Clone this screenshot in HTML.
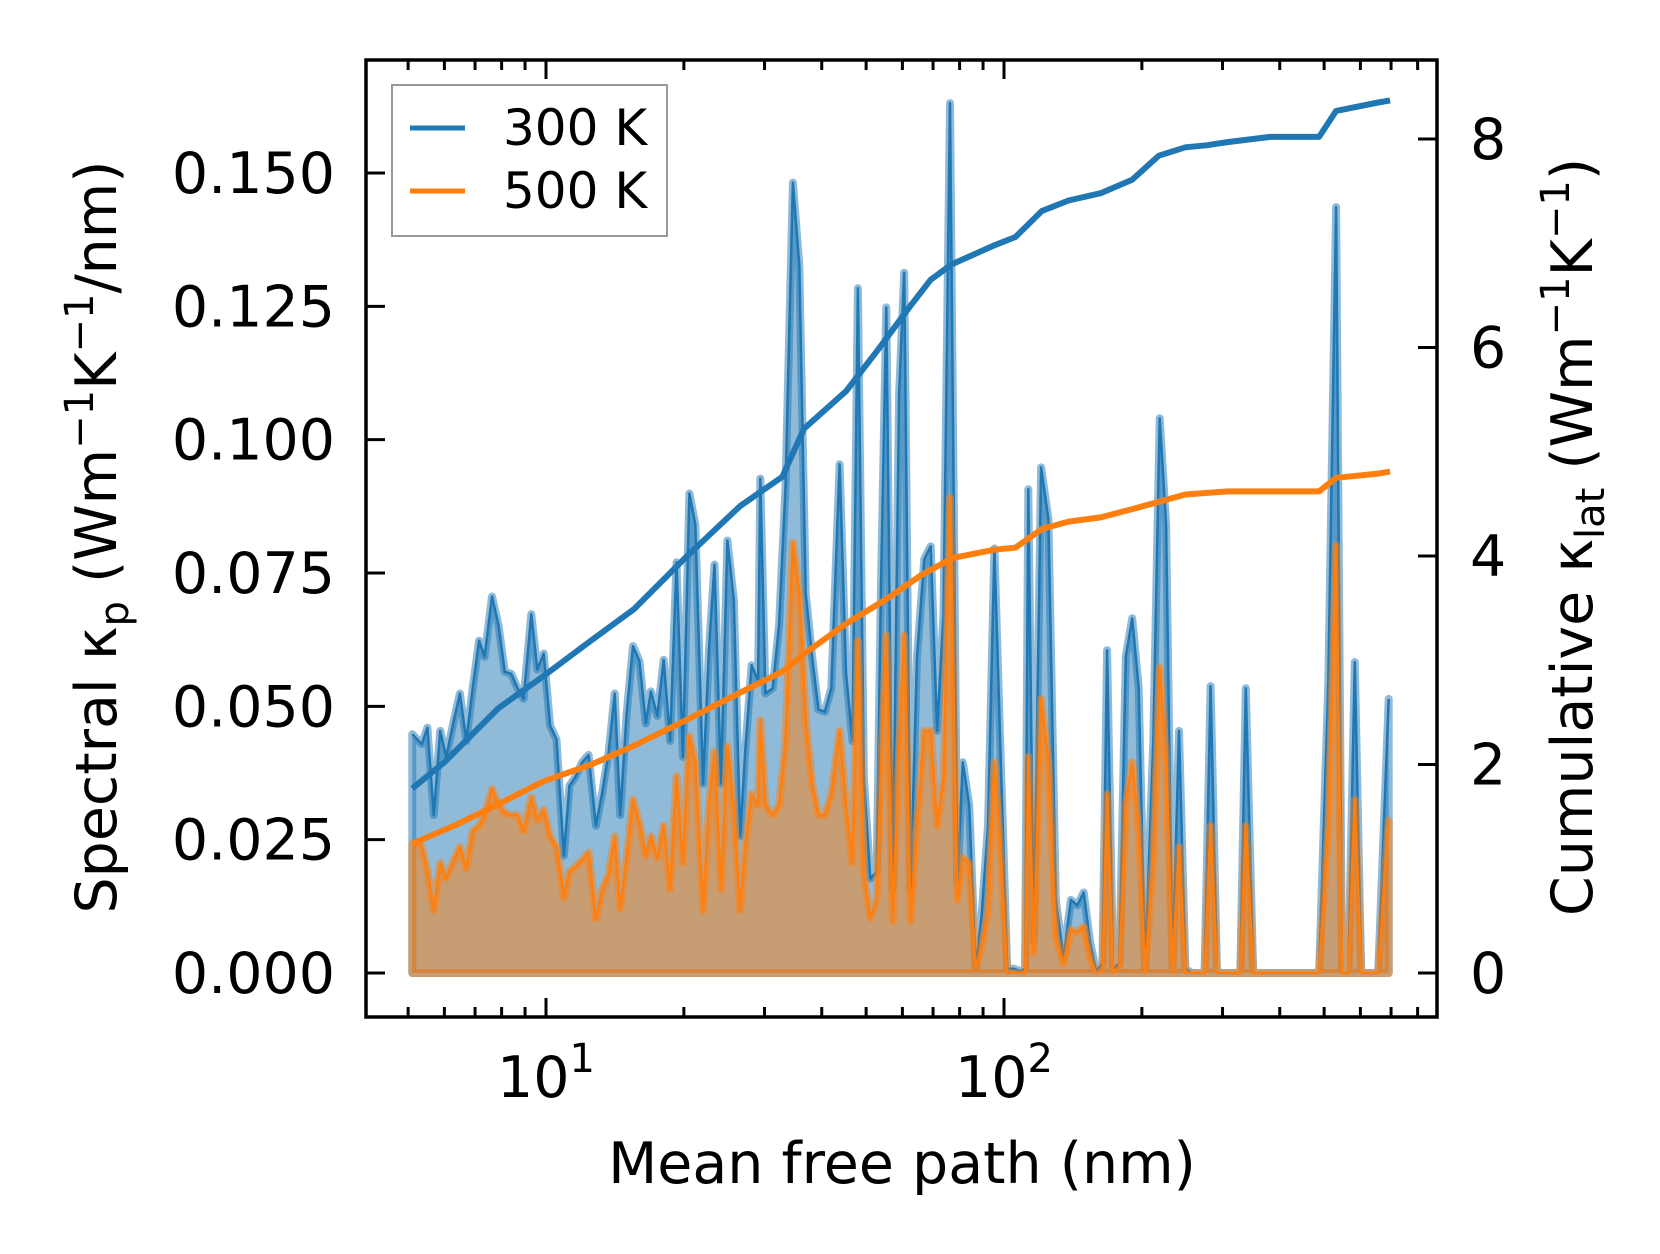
<!DOCTYPE html>
<html><head><meta charset="utf-8"><style>
html,body{margin:0;padding:0;background:#fff;}
svg{display:block;font-family:"DejaVu Sans","Liberation Sans",sans-serif;}
</style></head><body>
<svg id="chart" width="1660" height="1254" viewBox="0 0 1660 1254" xmlns="http://www.w3.org/2000/svg">
<g id="plot"></g>
<g id="axes"></g>
<text x="902" y="1183" font-size="57" text-anchor="middle">Mean free path (nm)</text>
<text transform="translate(116,537) rotate(-90)" font-size="57" text-anchor="middle">Spectral κ<tspan font-size="40" dy="12">p</tspan><tspan dy="-12"> (Wm</tspan><tspan font-size="40" dy="-23">−1</tspan><tspan dy="23">K</tspan><tspan font-size="40" dy="-23">−1</tspan><tspan dy="23">/nm)</tspan></text>
<text transform="translate(1592,537) rotate(-90)" font-size="57" text-anchor="middle">Cumulative κ<tspan font-size="40" dy="12">lat</tspan><tspan dy="-12"> (Wm</tspan><tspan font-size="40" dy="-23">−1</tspan><tspan dy="23">K</tspan><tspan font-size="40" dy="-23">−1</tspan><tspan dy="23">)</tspan></text>
<g>
<rect x="392" y="85" width="275" height="151" fill="#fff" fill-opacity="0.8" stroke="#999" stroke-width="2"/>
<line x1="410" y1="128" x2="465" y2="128" stroke="#1f77b4" stroke-width="5"/>
<text x="503" y="145" font-size="50">300 K</text>
<line x1="410" y1="191" x2="465" y2="191" stroke="#ff7f0e" stroke-width="5"/>
<text x="503" y="208" font-size="50">500 K</text>
</g>
</svg>
<script>
const logMfp=[0.708,0.722,0.729,0.741,0.755,0.769,0.782,0.799,0.812,0.826,0.840,0.854,0.866,0.882,0.896,0.910,0.924,0.938,0.951,0.968,0.981,0.995,1.009,1.023,1.039,1.051,1.065,1.079,1.093,1.109,1.123,1.137,1.150,1.162,1.176,1.190,1.204,1.218,1.229,1.243,1.257,1.271,1.285,1.299,1.313,1.326,1.343,1.356,1.368,1.382,1.396,1.410,1.424,1.435,1.449,1.463,1.468,1.479,1.495,1.509,1.523,1.539,1.553,1.567,1.581,1.595,1.609,1.623,1.641,1.655,1.669,1.681,1.694,1.708,1.722,1.731,1.743,1.757,1.771,1.782,1.796,1.810,1.826,1.840,1.854,1.868,1.882,1.898,1.910,1.924,1.938,1.951,1.965,1.979,1.993,2.007,2.021,2.035,2.046,2.053,2.065,2.081,2.097,2.113,2.130,2.146,2.160,2.174,2.188,2.201,2.215,2.225,2.238,2.252,2.266,2.280,2.294,2.308,2.326,2.340,2.354,2.368,2.382,2.396,2.410,2.424,2.438,2.451,2.465,2.479,2.493,2.516,2.528,2.544,2.688,2.708,2.725,2.738,2.752,2.766,2.780,2.817,2.840];
const spec300=[0.0448,0.0435,0.0429,0.0460,0.0296,0.0454,0.0405,0.0474,0.0524,0.0435,0.0534,0.0623,0.0593,0.0706,0.0653,0.0565,0.0561,0.0534,0.0514,0.0673,0.0569,0.0599,0.0464,0.0438,0.0220,0.0351,0.0369,0.0395,0.0409,0.0276,0.0339,0.0415,0.0524,0.0296,0.0486,0.0613,0.0585,0.0468,0.0528,0.0482,0.0587,0.0435,0.0770,0.0405,0.0899,0.0841,0.0355,0.0607,0.0766,0.0355,0.0811,0.0700,0.0256,0.0415,0.0577,0.0548,0.0927,0.0524,0.0534,0.0653,0.0911,0.1482,0.1327,0.0712,0.0593,0.0494,0.0490,0.0534,0.0954,0.0563,0.0435,0.1284,0.0365,0.0177,0.0190,0.0706,0.1248,0.0157,0.1085,0.1313,0.0157,0.0593,0.0776,0.0800,0.0454,0.0673,0.1631,0.0171,0.0395,0.0315,0.0008,0.0107,0.0276,0.0796,0.0395,0.0008,0.0008,0.0004,0.0008,0.0907,0.0062,0.0948,0.0851,0.0137,0.0028,0.0137,0.0127,0.0151,0.0058,0.0004,0.0018,0.0605,0.0008,0.0018,0.0593,0.0665,0.0534,0.0008,0.0435,0.1040,0.0841,0.0008,0.0454,0.0008,0,0,0,0.0538,0,0,0,0,0.0534,0,0,0.0544,0.1436,0,0,0.0583,0,0,0.0514];
const spec500=[0.0242,0.0246,0.0236,0.0192,0.0117,0.0206,0.0177,0.0212,0.0236,0.0196,0.0266,0.0276,0.0296,0.0345,0.0315,0.0300,0.0296,0.0296,0.0266,0.0329,0.0286,0.0306,0.0256,0.0236,0.0141,0.0190,0.0200,0.0212,0.0226,0.0101,0.0157,0.0186,0.0256,0.0121,0.0216,0.0325,0.0280,0.0220,0.0256,0.0216,0.0276,0.0157,0.0369,0.0206,0.0444,0.0395,0.0117,0.0315,0.0415,0.0157,0.0425,0.0306,0.0117,0.0236,0.0335,0.0315,0.0474,0.0315,0.0296,0.0315,0.0435,0.0807,0.0712,0.0474,0.0355,0.0296,0.0296,0.0335,0.0454,0.0315,0.0206,0.0623,0.0186,0.0103,0.0137,0.0365,0.0633,0.0097,0.0415,0.0633,0.0097,0.0276,0.0454,0.0454,0.0276,0.0365,0.0891,0.0137,0.0216,0.0206,0.0008,0.0048,0.0117,0.0395,0.0216,0,0,0,0,0.0405,0.0038,0.0514,0.0395,0.0067,0.0018,0.0081,0.0077,0.0087,0.0028,0,0.0004,0.0335,0,0.0010,0.0315,0.0395,0.0266,0,0.0216,0.0573,0.0395,0,0.0236,0,0,0,0,0.0276,0,0,0,0,0.0276,0,0,0.0276,0.0802,0,0,0.0325,0,0,0.0286];
const cumLog300=[0.708,0.780,0.896,0.995,1.099,1.192,1.308,1.424,1.516,1.563,1.655,1.725,1.794,1.840,1.887,1.979,2.025,2.083,2.141,2.211,2.280,2.338,2.396,2.442,2.488,2.581,2.688,2.725,2.817,2.843];
const cum300=[1.77,2.03,2.54,2.85,3.19,3.49,4.00,4.48,4.76,5.22,5.58,5.98,6.39,6.65,6.80,6.98,7.06,7.31,7.41,7.48,7.61,7.84,7.92,7.94,7.97,8.02,8.02,8.27,8.35,8.37];
const cumLog500=[0.708,0.803,0.896,0.995,1.099,1.192,1.308,1.424,1.516,1.563,1.655,1.748,1.817,1.887,1.979,2.025,2.083,2.141,2.211,2.280,2.338,2.396,2.488,2.688,2.725,2.817,2.843];
const cum500=[1.24,1.42,1.62,1.84,2.00,2.18,2.43,2.69,2.89,3.06,3.35,3.60,3.81,3.98,4.06,4.08,4.26,4.33,4.37,4.45,4.52,4.59,4.62,4.62,4.75,4.79,4.81];
const leftTicks=[0,0.025,0.05,0.075,0.1,0.125,0.15];
const leftTickLabels=["0.000","0.025","0.050","0.075","0.100","0.125","0.150"];
const rightTicks=[0,2,4,6,8];
const xDecades=[1,2];

const NS="http://www.w3.org/2000/svg";
const L=366,R=1437,T=60,B=1017;
const xs=l=>546+(l-1)*458;
const yl=v=>973-v*5333.3;
const yr=v=>973-v*104.25;
function mk(tag,attrs,parent){const e=document.createElementNS(NS,tag);for(const k in attrs)e.setAttribute(k,attrs[k]);parent.appendChild(e);return e;}
const plot=document.getElementById('plot'),axes=document.getElementById('axes');

function area(vals,color,name){
  let pts=logMfp.map((l,i)=>xs(l).toFixed(1)+','+yl(vals[i]).toFixed(1));
  const d='M'+xs(logMfp[0])+','+yl(0)+' L'+pts.join(' L')+' L'+xs(logMfp[logMfp.length-1])+','+yl(0)+' Z';
  const p=mk('path',{d:d,fill:color,'fill-opacity':0.5,stroke:color,'stroke-opacity':0.5,'stroke-width':8,'stroke-linejoin':'round'},plot);
  
  
  const ln=mk('polyline',{points:pts.join(' '),fill:'none',stroke:color,'stroke-width':2.5,'stroke-linejoin':'round'},plot);
  
  
}
area(spec300,'#1f77b4','spectral-300k');
area(spec500,'#ff7f0e','spectral-500k');
function cum(lx,vals,color,name){
  const pts=lx.map((l,i)=>xs(l).toFixed(1)+','+yr(vals[i]).toFixed(1)).join(' ');
  const ln=mk('polyline',{points:pts,fill:'none',stroke:color,'stroke-width':6,'stroke-linejoin':'round'},plot);
  
  
}
cum(cumLog300,cum300,'#1f77b4','cumulative-300k');
cum(cumLog500,cum500,'#ff7f0e','cumulative-500k');

mk('rect',{x:L,y:T,width:R-L,height:B-T,fill:'none',stroke:'#000','stroke-width':3.5},axes);
leftTicks.forEach((v,i)=>{
  const y=yl(v);
  mk('line',{x1:L,y1:y,x2:L+19,y2:y,stroke:'#000','stroke-width':3},axes);
  const t=mk('text',{x:335,y:y+20,'font-size':57,'text-anchor':'end'},axes);
  t.textContent=leftTickLabels[i];
  
  
});
rightTicks.forEach(v=>{
  const y=yr(v);
  mk('line',{x1:R-19,y1:y,x2:R,y2:y,stroke:'#000','stroke-width':3},axes);
  const t=mk('text',{x:1470,y:y+20,'font-size':57},axes);
  t.textContent=String(v);
  
  
});
for(let dec=0;dec<=2;dec++){
  for(let m=1;m<10;m++){
    const l=dec+Math.log10(m);const x=xs(l);
    if(x<L+2||x>R-2)continue;
    const len=m===1?19:10;
    mk('line',{x1:x,y1:B,x2:x,y2:B-len,stroke:'#000','stroke-width':3},axes);
    mk('line',{x1:x,y1:T,x2:x,y2:T+len,stroke:'#000','stroke-width':3},axes);
  }
}
xDecades.forEach(d=>{
  const t=mk('text',{x:xs(d),y:1097,'font-size':57,'text-anchor':'middle'},axes);
  
  
  t.textContent='10';
  const s=mk('tspan',{'font-size':40,dy:-25},t);s.textContent=String(d);
});
</script>
</body></html>
